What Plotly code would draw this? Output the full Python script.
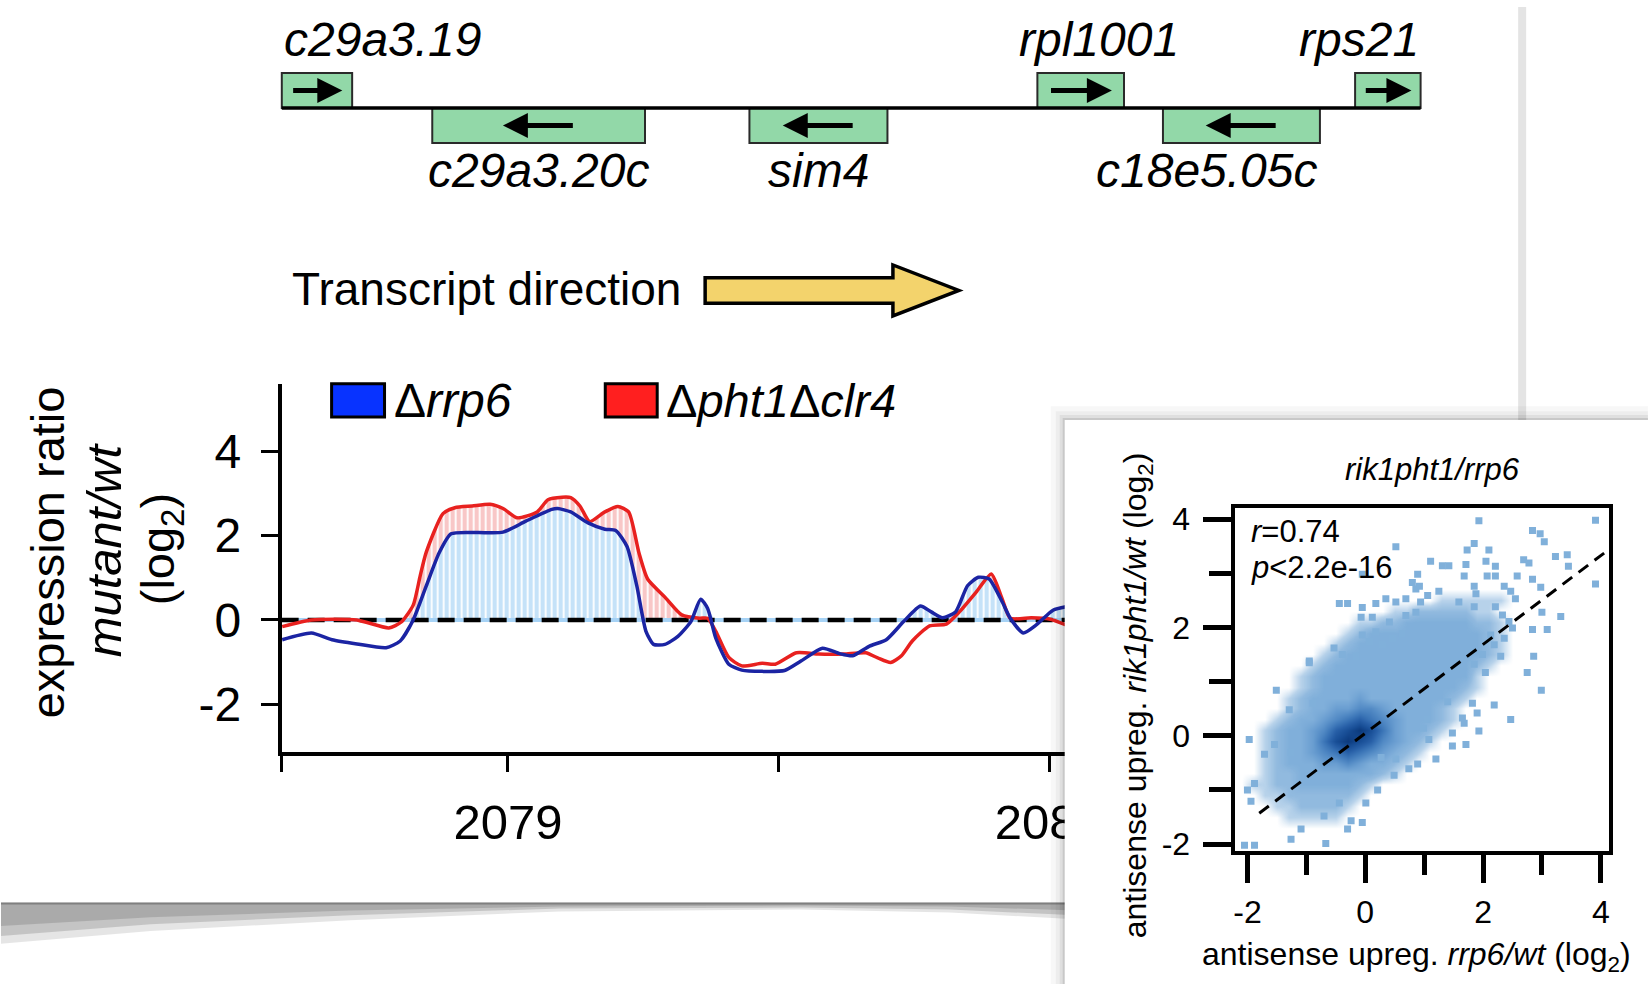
import numpy as np
import plotly.graph_objects as go

W, H = 1649, 996
FONT = "Liberation Sans, Arial, Helvetica, sans-serif"


def fx(p):
    return p / W


def fy(p):
    return 1 - p / H


# ---------------- data: gene track ----------------
gene_names = ["c29a3.19", "c29a3.20c", "sim4", "rpl1001", "c18e5.05c", "rps21"]
gene_start = [2078.582, 2078.860, 2079.446, 2079.978, 2080.210, 2080.565]
gene_end = [2078.712, 2079.253, 2079.701, 2080.138, 2080.500, 2080.686]
gene_strand = [1, -1, -1, 1, -1, 1]
label_anchor = ["left", "center", "center", "center", "right", "right"]
locus = [2078.582, 2080.686]

# ---------------- data: expression ratio (log2) ----------------
blue_x = [2078.583, 2078.637, 2078.675, 2078.721, 2078.775, 2078.801, 2078.825, 2078.849,
          2078.873, 2078.895, 2078.943, 2078.991, 2079.033, 2079.081, 2079.092, 2079.116,
          2079.148, 2079.179, 2079.199, 2079.220, 2079.238, 2079.255, 2079.269, 2079.290,
          2079.314, 2079.338, 2079.356, 2079.369, 2079.384, 2079.408, 2079.432, 2079.470,
          2079.511, 2079.542, 2079.581, 2079.613, 2079.637, 2079.668, 2079.699, 2079.731,
          2079.762, 2079.782, 2079.803, 2079.827, 2079.849, 2079.869, 2079.889, 2079.913,
          2079.928, 2079.952, 2079.976, 2080.007, 2080.031]
blue_y = [-0.47, -0.31, -0.47, -0.57, -0.66, -0.50, 0.0, 0.8, 1.59, 2.04, 2.07, 2.08, 2.34,
          2.62, 2.64, 2.56, 2.30, 2.15, 2.12, 1.74, 0.81, -0.27, -0.58, -0.58, -0.39, -0.04,
          0.49, 0.27, -0.43, -1.05, -1.19, -1.22, -1.20, -0.97, -0.67, -0.80, -0.85, -0.62,
          -0.47, -0.04, 0.33, 0.19, 0.05, 0.19, 0.81, 1.01, 0.97, 0.43, 0.04, -0.31, -0.12,
          0.23, 0.31]
red_x = [2078.583, 2078.637, 2078.721, 2078.780, 2078.803, 2078.825, 2078.838, 2078.849,
         2078.880, 2078.902, 2078.934, 2078.967, 2078.991, 2079.017, 2079.054, 2079.074,
         2079.100, 2079.116, 2079.133, 2079.151, 2079.179, 2079.203, 2079.223, 2079.242,
         2079.258, 2079.290, 2079.321, 2079.354, 2079.369, 2079.384, 2079.408, 2079.432,
         2079.470, 2079.494, 2079.533, 2079.574, 2079.620, 2079.661, 2079.683, 2079.707,
         2079.727, 2079.747, 2079.779, 2079.810, 2079.834, 2079.865, 2079.893, 2079.913,
         2079.928, 2079.967, 2080.000, 2080.031]
red_y = [-0.16, 0.0, 0.0, -0.19, -0.05, 0.35, 1.05, 1.6, 2.52, 2.66, 2.70, 2.74, 2.64, 2.42,
         2.56, 2.85, 2.91, 2.90, 2.70, 2.33, 2.56, 2.69, 2.56, 1.59, 0.97, 0.54, 0.12, 0.04,
         0.04, -0.27, -0.89, -1.09, -1.03, -1.05, -0.78, -0.81, -0.81, -0.78, -0.90, -1.01,
         -0.85, -0.50, -0.14, -0.10, 0.19, 0.66, 1.09, 0.50, 0.04, 0.05, 0.02, -0.12]
x_tick_vals = [2078.582, 2079, 2079.5, 2080]
x_tick_text = ["", "2079", "", "2080"]
y_tick_vals = [-2, 0, 2, 4]
y_tick_text = ["-2", "0", "2", "4"]

# ---------------- data: inset scatter ----------------
pts_x = [1.93, 3.91, 2.84, 2.97, 3.04, 1.85, 1.73, 2.10, 1.11, 1.31, 1.42, 1.71, 2.05, 2.21,
         2.69, 2.78, 3.23, 3.43, 3.45, 0.89, 1.68, 2.07, 2.21, 2.58, 2.84, 3.91, 0.92, 1.06,
         1.25, 1.85, 1.88, 2.36, 2.47, 2.55, 2.98, 0.94, 1.59, 1.85, 2.21, 2.33, 2.44, 2.50,
         3.00, 3.32, 2.84, 3.09, 2.36, 2.86, 2.13, 2.19, 1.99, 2.30,
         0.52, -0.05, 0.80, 0.86, -0.44, -0.30, -0.05, 0.18, 0.35, 0.52, 0.69, -0.07, 0.12,
         0.41, 0.69, 0.86, -0.53, -0.95, -0.05, 0.07, 0.18, 0.29, 0.46, 0.63, -0.39, -0.16,
         -0.95, -1.51, -1.29, -0.89, -1.97, -1.54, -1.71, -1.26, -2.00, -1.88, -1.94, -2.05,
         -1.88, -1.26, -1.09, -0.67, -0.30, -0.24, -0.05, -0.70, -0.44, 0.01, 0.21, 0.49,
         0.74, 0.52, 0.27,
         2.75, 2.99, 2.19, 2.47, 1.90, 1.65, 1.68, 1.93, 1.48, 1.71, 1.48, 1.20, 0.89, 1.08,
         0.99, 1.05, 1.40, 1.82, 2.04, 1.85]
pts_y = [3.97, 3.98, 3.79, 3.73, 3.58, 3.55, 3.43, 3.43, 3.22, 3.14, 3.14, 3.16, 3.22, 3.13,
         3.25, 3.19, 3.31, 3.34, 3.13, 2.98, 2.95, 2.95, 2.95, 2.95, 2.89, 2.80, 2.76, 2.59,
         2.67, 2.76, 2.62, 2.76, 2.67, 2.53, 2.74, 2.47, 2.47, 2.38, 2.38, 2.23, 2.11, 1.99,
         2.28, 2.20, 1.96, 1.96, 1.80, 1.47, 1.86, 1.68, 1.50, 1.47,
         3.49, 2.98, 2.83, 2.71, 2.44, 2.44, 2.37, 2.44, 2.53, 2.47, 2.53, 2.19, 2.19,
         2.10, 2.22, 2.28, 1.62, 1.38, 1.86, 1.74, 1.92, 1.68, 1.80, 1.89, 1.50, 1.47,
         1.35, 0.84, 0.48, 0.60, -0.07, -0.16, -0.34, -0.31, -1.00, -0.88, -1.21, -2.02,
         -2.02, -1.91, -1.72, -1.99, -1.72, -1.57, -1.60, -1.48, -1.24, -1.24, -1.00, -0.73,
         -0.61, -0.43, -0.40,
         1.17, 0.84, 0.57, 0.30, 0.42, 0.33, 0.23, 0.09, 0.05, -0.16, -0.19, -0.43, -0.52,
         -0.07, 0.14, 0.30, 0.63, 0.60, 1.17, 1.32]
# density of the smoothed scatter (0 = none ... 9 = densest), rows from y=4.1 down to y=-2.1,
# columns from x=-2.1 to x=4.1 in steps of 0.2
density_rows = [
    "00000000000000000000000000000000",
    "00000000000000000000000000000000",
    "00000000000000000000000000000000",
    "00000000000000000000000000000000",
    "00000000000000000000000000000000",
    "00000000000000000000000000000000",
    "00000000000000000000000000000000",
    "00000000000000000000000000000000",
    "00000000000000000111111000000000",
    "00000000000001122222110000000000",
    "00000000001122333333221000000000",
    "00000000012333333333321000000000",
    "00000000123333333333321000000000",
    "00000001233333333333321000000000",
    "00000012333333333333210000000000",
    "00000123333333333333100000000000",
    "00000123333333333332100000000000",
    "00001233334333333321000000000000",
    "00001233445543333210000000000000",
    "00012334567654333210000000000000",
    "00123345789864332100000000000000",
    "00123346898754321000000000000000",
    "00123345676543210000000000000000",
    "00123334454332100000000000000000",
    "00122333333321000000000000000000",
    "01122333332100000000000000000000",
    "00112222221000000000000000000000",
    "00011222210000000000000000000000",
    "00001111100000000000000000000000",
    "00000000000000000000000000000000",
    "00000000000000000000000000000000",
    "00000000000000000000000000000000",
]
fit_x = [-1.8, 4.2]
fit_y = [-1.43, 3.49]
sc_ticks = [-2, 0, 2, 4]
sc_ticktext = ["-2", "0", "2", "4"]
sc_minor = [-1, 1, 3]

# ---------------- figure ----------------
fig = go.Figure()

XR_MAIN = [2078.582, 2080.905]
blue_pos = np.maximum(np.array(blue_y), 0)
red_pos = np.maximum(np.array(red_y), 0)

fig.add_trace(go.Scatter(
    x=red_x, y=red_pos, mode="lines", line=dict(width=0, shape="spline", smoothing=0.6),
    fill="tozeroy",
    fillpattern=dict(shape="|", size=6, solidity=0.7, fgcolor="#f29090", bgcolor="rgba(0,0,0,0)"),
    hoverinfo="skip", xaxis="x", yaxis="y"))
fig.add_trace(go.Scatter(
    x=blue_x, y=blue_pos, mode="lines", line=dict(width=0, shape="spline", smoothing=0.6),
    fill="tozeroy",
    fillpattern=dict(shape="|", size=6, solidity=0.7, fgcolor="#8cc5f2", bgcolor="white"),
    hoverinfo="skip", xaxis="x", yaxis="y"))
fig.add_trace(go.Scatter(x=XR_MAIN, y=[0, 0], mode="lines",
                         line=dict(color="#a6d2f5", width=4), hoverinfo="skip",
                         xaxis="x", yaxis="y"))
fig.add_trace(go.Scatter(x=XR_MAIN, y=[0, 0], mode="lines",
                         line=dict(color="black", width=4.5, dash="17px,9px"), hoverinfo="skip",
                         xaxis="x", yaxis="y"))
fig.add_trace(go.Scatter(x=red_x, y=red_y, mode="lines",
                         line=dict(color="#e8211f", width=3.5, shape="spline", smoothing=0.6),
                         xaxis="x", yaxis="y"))
fig.add_trace(go.Scatter(x=blue_x, y=blue_y, mode="lines",
                         line=dict(color="#1b24a3", width=3.5, shape="spline", smoothing=0.6),
                         xaxis="x", yaxis="y"))

# gene track
g_center = [(s + e) / 2 for s, e in zip(gene_start, gene_end)]
g_width = [e - s for s, e in zip(gene_start, gene_end)]
g_base = [0 if st > 0 else -1 for st in gene_strand]
fig.add_trace(go.Scatter(x=locus, y=[0, 0], mode="lines", line=dict(color="black", width=3.5),
                         xaxis="x2", yaxis="y2"))
fig.add_trace(go.Bar(x=g_center, y=[1] * len(gene_names), base=g_base, width=g_width,
                     marker=dict(color="#92d8a8", line=dict(color="#2a2a2a", width=2)),
                     xaxis="x2", yaxis="y2"))

# inset panel (shadow + white card)
for d, a in [(14, 0.03), (9, 0.04), (5, 0.06), (2, 0.1)]:
    fig.add_trace(go.Scatter(x=[1065 - d, 1649, 1649, 1065 - d, 1065 - d],
                             y=[421 - d, 421 - d, 996, 996, 421 - d],
                             mode="lines", line=dict(width=0), fill="toself",
                             fillcolor=f"rgba(0,0,0,{a})", hoverinfo="skip",
                             xaxis="x3", yaxis="y3"))
fig.add_trace(go.Scatter(x=[1065, 1649, 1649, 1065, 1065], y=[421, 421, 996, 996, 421],
                         mode="lines", line=dict(width=0), fill="toself", fillcolor="white",
                         hoverinfo="skip", xaxis="x3", yaxis="y3"))

# inset scatter
z = [[int(c) for c in row] for row in density_rows]
hx = [round(-2.1 + 0.2 * k, 2) for k in range(32)]
hy = [round(4.1 - 0.2 * j, 2) for j in range(32)]
cscale = [
    [0.0, "rgba(135,180,220,0)"],
    [1 / 9, "rgba(135,180,220,0.6)"],
    [2 / 9, "rgba(133,178,219,0.9)"],
    [3 / 9, "rgb(128,175,218)"],
    [4 / 9, "rgb(106,158,209)"],
    [5 / 9, "rgb(82,138,197)"],
    [6 / 9, "rgb(60,118,184)"],
    [7 / 9, "rgb(40,96,168)"],
    [8 / 9, "rgb(24,78,150)"],
    [1.0, "rgb(12,58,125)"],
]
fig.add_trace(go.Heatmap(x=hx, y=hy, z=z, zmin=0, zmax=9, colorscale=cscale, zsmooth="best",
                         showscale=False, hoverinfo="skip", xaxis="x4", yaxis="y4"))
fig.add_trace(go.Scatter(x=pts_x, y=pts_y, mode="markers",
                         marker=dict(symbol="square", size=7, color="#80b0da"),
                         xaxis="x4", yaxis="y4"))
fig.add_trace(go.Scatter(x=fit_x, y=fit_y, mode="lines",
                         line=dict(color="black", width=3, dash="12px,8px"),
                         xaxis="x4", yaxis="y4"))

# ---------------- annotations ----------------
ann = []
for s, e, st in zip(gene_start, gene_end, gene_strand):
    c = (s + e) / 2
    half = min(0.066, 0.36 * (e - s))
    yv = 0.5 if st > 0 else -0.5
    ann.append(dict(x=c + st * half, y=yv, ax=c - st * half, ay=yv, xref="x2", yref="y2",
                    axref="x2", ayref="y2", showarrow=True, arrowhead=2, arrowsize=1.0,
                    arrowwidth=5, arrowcolor="black", text="", standoff=0, startstandoff=0,
                    font=dict(size=1)))
label_xshift = {"rpl1001": 18}
for name, s, e, st, anc in zip(gene_names, gene_start, gene_end, gene_strand, label_anchor):
    xpos = s if anc == "left" else (e if anc == "right" else (s + e) / 2)
    ann.append(dict(x=xpos, y=1.95 if st > 0 else -1.78, xref="x2", yref="y2",
                    xanchor=anc, yanchor="middle", showarrow=False, text=f"<i>{name}</i>",
                    xshift=label_xshift.get(name, 0),
                    font=dict(size=48, family=FONT, color="black")))


def pa(x, y, text, size, xanchor="center", angle=0):
    return dict(x=fx(x), y=fy(y), xref="paper", yref="paper", xanchor=xanchor,
                yanchor="middle", textangle=angle, showarrow=False, text=text,
                font=dict(size=size))


ann += [
    pa(289, 287, "Transcript direction", 46, "left"),
    pa(46, 556, "expression ratio", 47, angle=-90),
    pa(104, 553, "<i>mutant/wt</i>", 49, angle=-90),
    pa(161, 553, "(log<sub>2</sub>)", 47, angle=-90),
    pa(391, 401, "Δ<i>rrp6</i>", 48, "left"),
    pa(664, 401, "Δ<i>pht1</i>Δ<i>clr4</i>", 47, "left"),
    pa(1433, 471, "<i>rik1pht1/rrp6</i>", 31),
    pa(1250, 535, "<i>r</i>=0.74", 31, "left"),
    pa(1250, 571, "<i>p</i>&lt;2.2e-16", 31, "left"),
    pa(1138, 702, "antisense upreg. <i>rik1pht1/wt</i> (log<sub>2</sub>)", 32, angle=-90),
    pa(1417, 968, "antisense upreg. <i>rrp6/wt</i> (log<sub>2</sub>)", 32),
]


# ---------------- shapes (decorations) ----------------
def ppath(points):
    return "M " + " L ".join(f"{fx(a):.5f},{fy(b):.5f}" for a, b in points) + " Z"


shapes = [
    dict(type="rect", xref="paper", yref="paper", x0=fx(1519), x1=fx(1527), y0=fy(430), y1=1,
         fillcolor="#e4e4e4", line=dict(width=0), layer="below"),
    dict(type="path", xref="paper", yref="paper",
         path=ppath([(705, 276), (893, 276), (893, 263), (959, 289), (893, 315), (893, 302),
                     (705, 302)]),
         fillcolor="#f3d36c", line=dict(color="black", width=3.5), layer="above"),
    dict(type="rect", xref="paper", yref="paper", x0=fx(331), x1=fx(384), y0=fy(418),
         y1=fy(384), fillcolor="#0833ff", line=dict(color="black", width=3)),
    dict(type="rect", xref="paper", yref="paper", x0=fx(605), x1=fx(657), y0=fy(418),
         y1=fy(384), fillcolor="#ff1f1f", line=dict(color="black", width=3)),
]
# page-curl shadow at the bottom
for bottom, a in [([955, 942, 931, 922, 920, 923, 930], 0.10),
                  ([947, 935, 926, 919, 918, 920, 926], 0.14),
                  ([937, 928, 921, 917, 916, 917, 921], 0.13)]:
    xs = [0, 150, 350, 560, 800, 950, 1075]
    pts = [(0, 913), (1075, 913)] + list(zip(xs[::-1], bottom[::-1]))
    shapes.append(dict(type="path", xref="paper", yref="paper", path=ppath(pts),
                       fillcolor=f"rgba(0,0,0,{a})", line=dict(width=0), layer="below"))
shapes.append(dict(type="line", xref="paper", yref="paper", x0=0, x1=fx(1075), y0=fy(914),
                   y1=fy(914), line=dict(color="rgba(0,0,0,0.25)", width=2), layer="below"))

axis_common = dict(showgrid=False, zeroline=False)
fig.update_layout(
    width=W, height=H, margin=dict(l=0, r=0, t=0, b=0), autosize=False,
    paper_bgcolor="white", plot_bgcolor="rgba(0,0,0,0)", showlegend=False,
    font=dict(family=FONT, color="black"),
    xaxis=dict(domain=[fx(281), fx(1540)], range=XR_MAIN, anchor="y", showline=True,
               linecolor="black", linewidth=3.5, ticks="outside", ticklen=17, tickwidth=3,
               tickcolor="black", tickmode="array", tickvals=x_tick_vals, ticktext=x_tick_text,
               tickfont=dict(size=49), ticklabelstandoff=8, **axis_common),
    yaxis=dict(domain=[fy(759), fy(384)], range=[-3.12, 5.6], anchor="x", showline=True,
               linecolor="black", linewidth=3.5, ticks="outside", ticklen=17, tickwidth=3,
               tickcolor="black", tickmode="array", tickvals=y_tick_vals, ticktext=y_tick_text,
               tickfont=dict(size=48), ticklabelstandoff=10, **axis_common),
    xaxis2=dict(domain=[fx(260), fx(1540)], range=[2078.543, 2080.905], anchor="y2",
                visible=False, **axis_common),
    yaxis2=dict(domain=[fy(192), fy(14)], range=[-2.5, 2.5], anchor="x2", visible=False,
                **axis_common),
    xaxis3=dict(domain=[fx(1040), 1], range=[1040, 1649], anchor="y3", visible=False,
                **axis_common),
    yaxis3=dict(domain=[0, fy(400)], range=[996, 400], anchor="x3", visible=False,
                **axis_common),
    xaxis4=dict(domain=[fx(1235), fx(1610)], range=[-2.22, 4.14], anchor="y4", showline=True,
                mirror=True, linecolor="black", linewidth=4, ticks="outside", ticklen=28,
                tickwidth=5, tickcolor="black", tickmode="array", tickvals=sc_ticks,
                ticktext=sc_ticktext, tickfont=dict(size=32), ticklabelstandoff=2,
                minor=dict(ticks="outside", ticklen=20, tickwidth=5, tickcolor="black",
                           tickmode="array", tickvals=sc_minor),
                **axis_common),
    yaxis4=dict(domain=[fy(860), fy(511)], range=[-2.12, 4.2], anchor="x4", showline=True,
                mirror=True, linecolor="black", linewidth=4, ticks="outside", ticklen=28,
                tickwidth=5, tickcolor="black", tickmode="array", tickvals=sc_ticks,
                ticktext=sc_ticktext, tickfont=dict(size=32), ticklabelstandoff=6,
                minor=dict(ticks="outside", ticklen=22, tickwidth=5, tickcolor="black",
                           tickmode="array", tickvals=sc_minor),
                **axis_common),
    annotations=ann,
    shapes=shapes,
)

fig.write_html("out.html")
